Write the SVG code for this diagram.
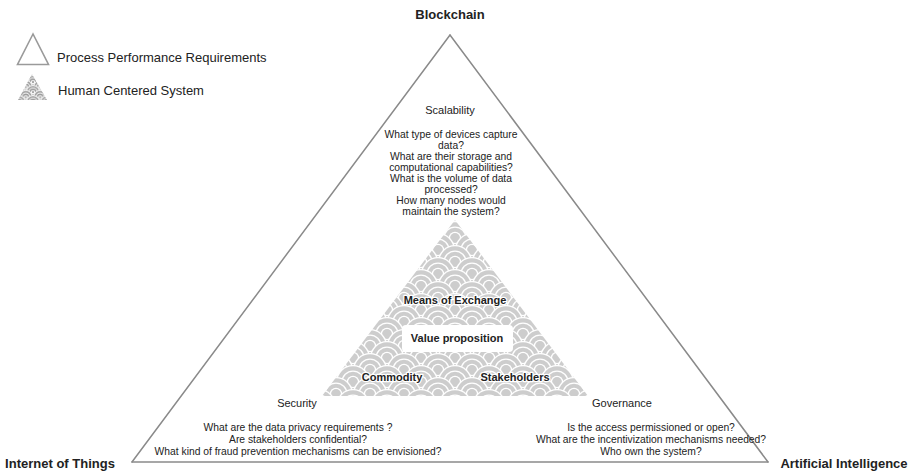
<svg xmlns="http://www.w3.org/2000/svg" xmlns:xlink="http://www.w3.org/1999/xlink" width="919" height="472" viewBox="0 0 919 472">
  <style>
    text { font-family: "Liberation Sans", Arial, Helvetica, sans-serif; fill: #222; }
    .corner { font-size: 13px; font-weight: bold; text-anchor: middle; }
    .title { font-size: 11px; text-anchor: middle; }
    .q { font-size: 10.3px; text-anchor: middle; }
    .core { font-size: 11px; font-weight: bold; text-anchor: middle; stroke: #fff; stroke-width: 2.5px; stroke-linejoin: round; paint-order: stroke; }
    .legend { font-size: 13px; }
    .edge { stroke: #8a8a8a; stroke-width: 1.5; fill: none; stroke-linecap: round; }
  </style>
  <defs>
    <!-- one seigaiha scale: concentric gray bands separated by thin white rings -->
    <g id="scale">
      <circle r="17" fill="#ffffff"/>
      <circle r="15.7" fill="#cdcdcd"/>
      <circle r="11.6" fill="#ffffff"/>
      <circle r="10.3" fill="#cdcdcd"/>
      <circle r="6.2" fill="#ffffff"/>
      <circle r="4.9" fill="#cdcdcd"/>
    </g>
    <g id="scaleDark">
      <circle r="17" fill="#ffffff"/>
      <circle r="14.5" fill="#9a9a9a"/>
      <circle r="11" fill="#ffffff"/>
      <circle r="8.5" fill="#9a9a9a"/>
      <circle r="5" fill="#ffffff"/>
      <circle r="2.5" fill="#9a9a9a"/>
    </g>
    <pattern id="waves" patternUnits="userSpaceOnUse" x="455" y="214" width="34" height="24">
      <use xlink:href="#scale" x="17" y="-12"/>
      <use xlink:href="#scale" x="0" y="0"/>
      <use xlink:href="#scale" x="34" y="0"/>
      <use xlink:href="#scale" x="17" y="12"/>
      <use xlink:href="#scale" x="0" y="24"/>
      <use xlink:href="#scale" x="34" y="24"/>
      <use xlink:href="#scale" x="17" y="36"/>
    </pattern>
    <pattern id="wavesSmall" patternUnits="userSpaceOnUse" x="0" y="0" width="34" height="24" patternTransform="translate(33 72) scale(0.42)">
      <use xlink:href="#scaleDark" x="17" y="-12"/>
      <use xlink:href="#scaleDark" x="0" y="0"/>
      <use xlink:href="#scaleDark" x="34" y="0"/>
      <use xlink:href="#scaleDark" x="17" y="12"/>
      <use xlink:href="#scaleDark" x="0" y="24"/>
      <use xlink:href="#scaleDark" x="34" y="24"/>
      <use xlink:href="#scaleDark" x="17" y="36"/>
    </pattern>
  </defs>

  <rect width="919" height="472" fill="#ffffff"/>

  <!-- legend -->
  <g id="legend">
    <polygon points="33,34 17.5,64.5 48.5,64.5" fill="none" stroke="#9a9a9a" stroke-width="1.6" stroke-linejoin="miter"/>
    <text class="legend" x="57" y="62">Process Performance Requirements</text>
    <polygon points="32,74 18,100 47,100" fill="url(#wavesSmall)"/>
    <text class="legend" x="58" y="95">Human Centered System</text>
  </g>

  <!-- sides of the requirements triangle -->
  <g id="connectors">
    <line class="edge" x1="450" y1="35" x2="132" y2="462"/>
    <line class="edge" x1="450" y1="35" x2="768" y2="462"/>
    <line class="edge" x1="132" y1="462" x2="768" y2="462"/>
  </g>

  <g id="node-blockchain">
    <text class="corner" x="450" y="19">Blockchain</text>
  </g>
  <g id="node-iot">
    <text class="corner" x="60" y="468">Internet of Things</text>
  </g>
  <g id="node-ai">
    <text class="corner" x="844" y="468">Artificial Intelligence</text>
  </g>

  <g id="node-scalability">
    <text class="title" x="450" y="114">Scalability</text>
    <text class="q" x="451" y="138">What type of devices capture</text>
    <text class="q" x="451" y="149">data?</text>
    <text class="q" x="451" y="160">What are their storage and</text>
    <text class="q" x="451" y="171">computational capabilities?</text>
    <text class="q" x="451" y="182">What is the volume of data</text>
    <text class="q" x="451" y="193">processed?</text>
    <text class="q" x="451" y="204">How many nodes would</text>
    <text class="q" x="451" y="215">maintain the system?</text>
  </g>

  <g id="node-security">
    <text class="title" x="297" y="407">Security</text>
    <text class="q" x="298" y="431">What are the data privacy requirements ?</text>
    <text class="q" x="298" y="443">Are stakeholders confidential?</text>
    <text class="q" x="298" y="455">What kind of fraud prevention mechanisms can be envisioned?</text>
  </g>

  <g id="node-governance">
    <text class="title" x="622" y="407">Governance</text>
    <text class="q" x="651" y="431">Is the access permissioned or open?</text>
    <text class="q" x="651" y="443">What are the incentivization mechanisms needed?</text>
    <text class="q" x="651" y="455">Who own the system?</text>
  </g>

  <!-- human centered system core -->
  <g id="node-human-centered">
    <polygon points="455,220 322,396 588,396" fill="url(#waves)"/>
    <rect x="402" y="325" width="111" height="27" rx="4" fill="#ffffff"/>
    <text class="core" x="455" y="304">Means of Exchange</text>
    <text class="core" x="457" y="342">Value proposition</text>
    <text class="core" x="392" y="381">Commodity</text>
    <text class="core" x="515" y="381">Stakeholders</text>
  </g>
</svg>
